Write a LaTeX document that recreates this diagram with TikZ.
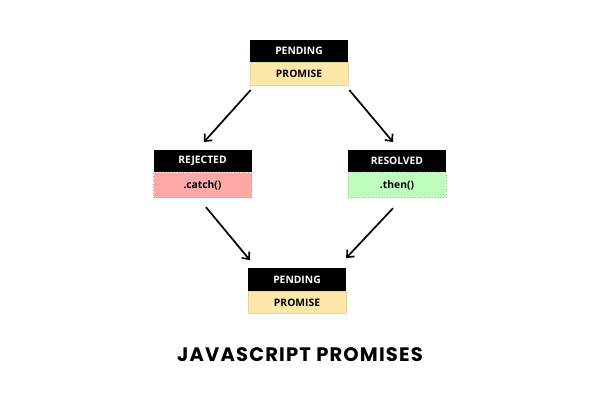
\documentclass[tikz,border=0pt]{standalone}
\usepackage{fontspec}
\setmainfont{Open Sans}
\newfontfamily\titlefont[LetterSpace=6]{Poppins}
\usetikzlibrary{calc,arrows.meta}
\definecolor{pendbg}{HTML}{FCE9AA}
\definecolor{pendbd}{HTML}{E6D59A}
\definecolor{rejbg}{HTML}{FFA8A8}
\definecolor{rejbd}{HTML}{F08A8A}
\definecolor{resbg}{HTML}{BDFFBB}
\definecolor{resbd}{HTML}{7FD07C}
\tikzset{
  head/.style={fill=black, text=white, minimum width=98pt, minimum height=22pt, inner sep=0pt, font=\bfseries\fontsize{10.3}{11}\selectfont, anchor=north},
  body/.style={minimum width=98pt, minimum height=23pt, inner sep=0pt, font=\bfseries\fontsize{10.3}{11}\selectfont, anchor=north},
  pend/.style={body, fill=pendbg, draw=pendbd, line width=0.6pt},
  rej/.style={body, fill=rejbg, draw=rejbd, dotted, line width=0.8pt, minimum height=25pt},
  res/.style={body, fill=resbg, draw=resbd, dotted, line width=0.8pt, minimum height=25pt},
  conn/.style={line width=1.7pt, -{Straight Barb[length=5.5pt,width=10pt,line width=1.7pt]}}
}
\begin{document}
\begin{tikzpicture}[x=1pt,y=-1pt]
\useasboundingbox[fill=white] (0,0) rectangle (600,400);
% top
\node[head] (topH) at (299,40) {PENDING};
\node[pend, minimum height=23pt] (topB) at (topH.south) {PROMISE};
% rejected
\node[head] (rejH) at (202.5,150) {REJECTED};
\node[rej] (rejB) at (rejH.south) {.catch()};
% resolved
\node[head] (resH) at (397,150) {RESOLVED};
\node[res] (resB) at (resH.south) {.then()};
% bottom
\node[head, minimum height=23pt] (botH) at (297,268) {PENDING};
\node[pend, minimum height=22pt] (botB) at (botH.south) {PROMISE};
% connectors
\draw[conn] ($(topB.south west)+(1,4)$) -- ($(rejH.north)+(1.5,-8)$);
\draw[conn] ($(topB.south east)+(1,4)$) -- ($(resH.north)+(-4,-8)$);
\draw[conn] ($(rejB.south)+(3.5,9)$) -- ($(botH.north west)+(2,-8)$);
\draw[conn] ($(resB.south)+(-4,10)$) -- ($(botH.north east)+(0,-10)$);
% title
\node[font=\titlefont\bfseries\fontsize{19.5}{22}\selectfont] (title) at (300,355) {JAVASCRIPT PROMISES};
\end{tikzpicture}
\end{document}
